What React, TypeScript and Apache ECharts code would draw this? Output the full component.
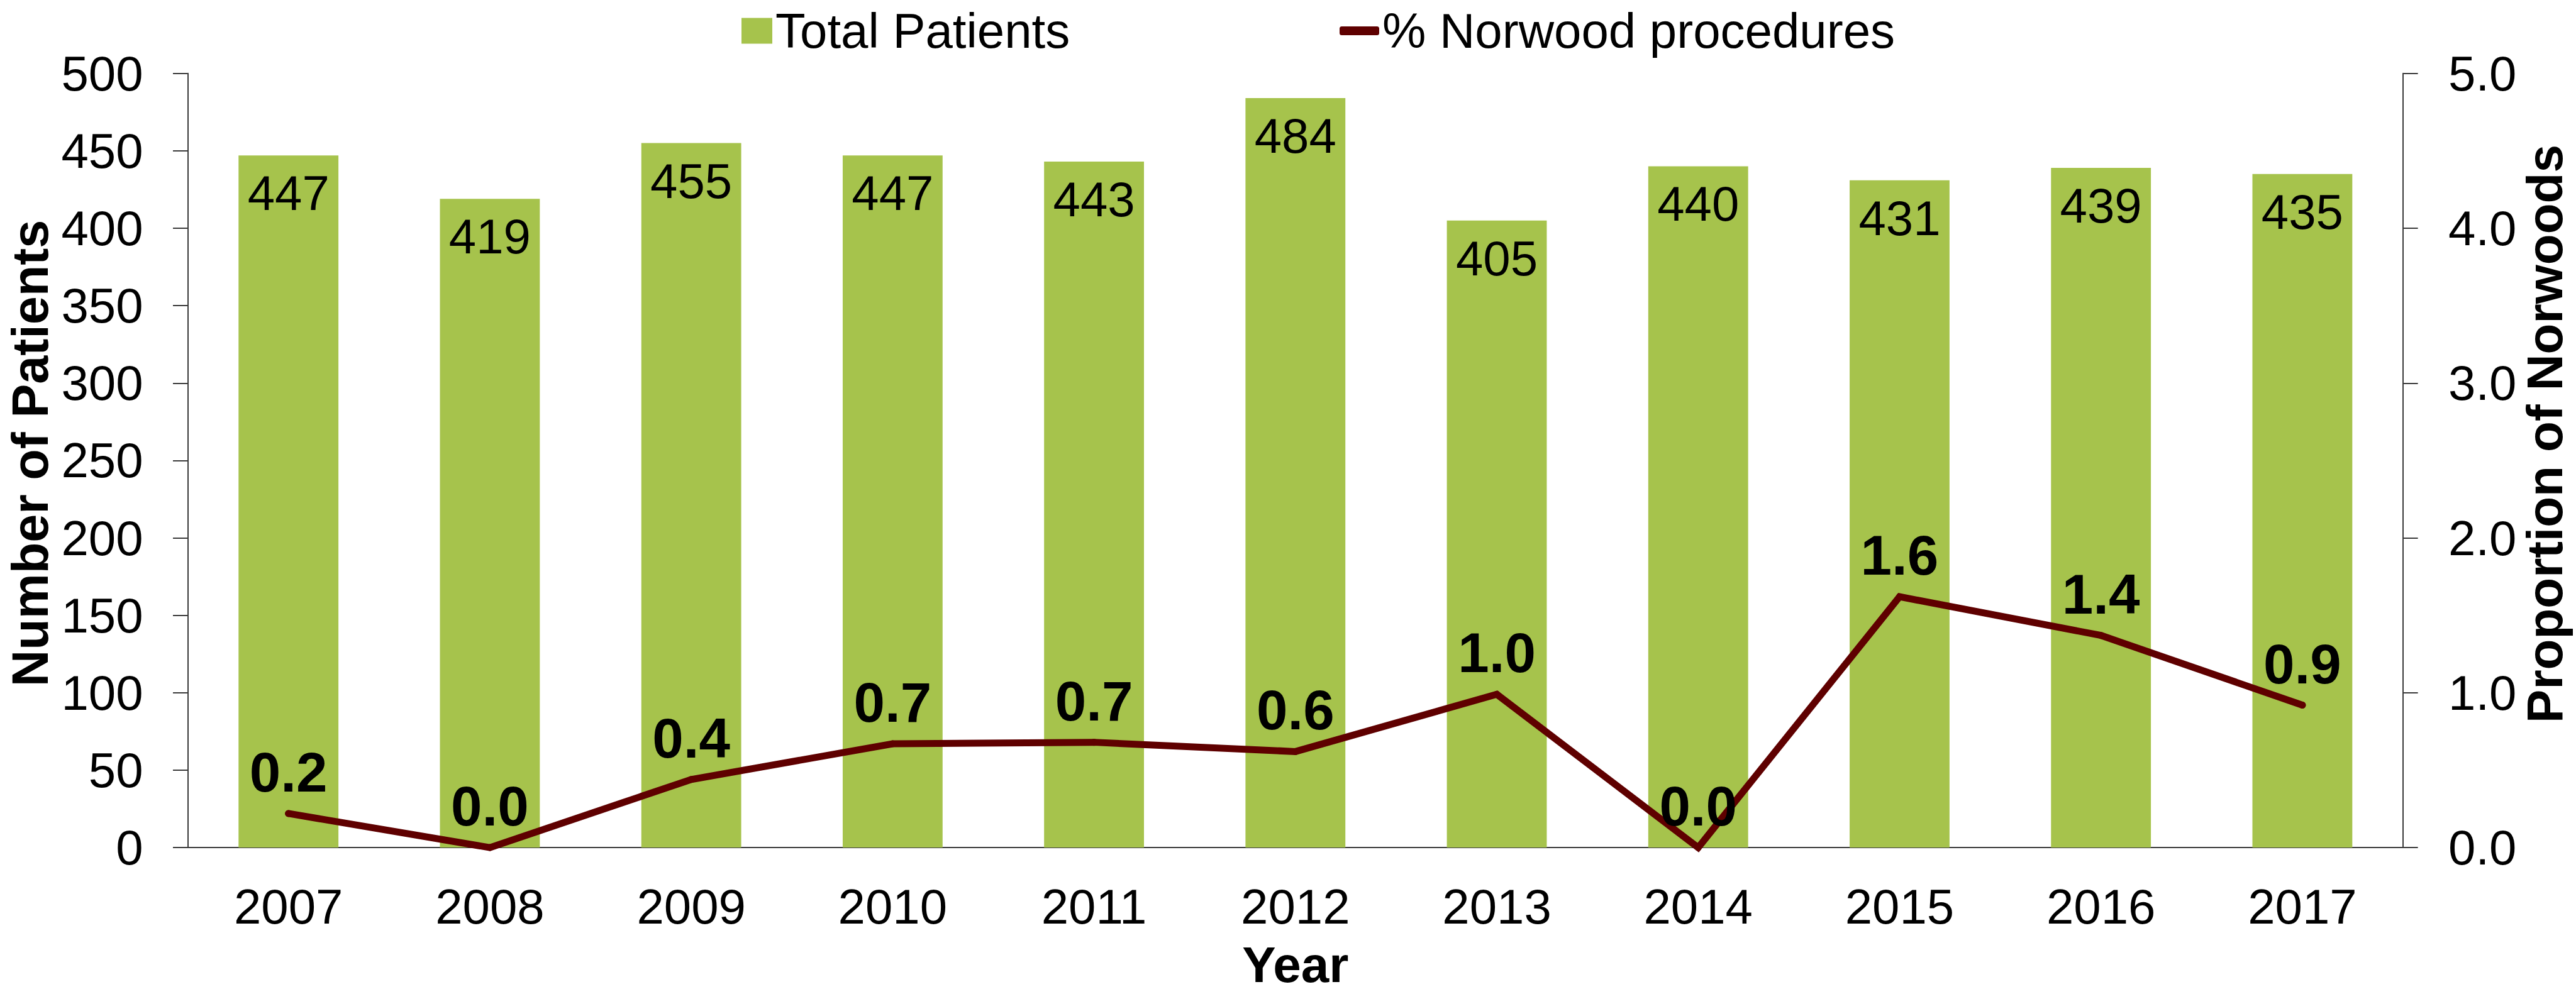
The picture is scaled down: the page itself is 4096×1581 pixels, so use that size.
import React, { useEffect, useRef } from "react";
import * as echarts from "echarts";

const years = ["2007", "2008", "2009", "2010", "2011", "2012", "2013", "2014", "2015", "2016", "2017"];
const totalPatients = [447, 419, 455, 447, 443, 484, 405, 440, 431, 439, 435];
const norwoodPct = [0.22, 0.0, 0.44, 0.67, 0.68, 0.62, 0.99, 0.0, 1.62, 1.37, 0.92];
const leftTicks = { min: 0, max: 500, interval: 50 };
const rightTicks = { min: 0, max: 5, interval: 1 };

const FONT = "'Liberation Sans', Arial, Helvetica, sans-serif";
const BAR_COLOR = "#A6C34C";
const LINE_COLOR = "#5F0000";
const AXIS_COLOR = "#3a3a3a";

export default function App() {
  const ref = useRef<HTMLDivElement>(null);
  useEffect(() => {
    if (!ref.current) return;
    const chart = echarts.init(ref.current, null, { renderer: "svg" });
    chart.setOption({
      animation: false,
      backgroundColor: "#ffffff",
      textStyle: { fontFamily: FONT },
      grid: { left: 298.6, right: 275, top: 116.7, bottom: 232.9, containLabel: false },
      legend: [
        {
          data: ["Total Patients"],
          left: 1179,
          top: 10,
          padding: 0,
          itemWidth: 49,
          itemHeight: 41,
          icon: "rect",
          textStyle: { fontSize: 78, lineHeight: 66, color: "#000", fontFamily: FONT },
        },
        {
          data: ["% Norwood procedures"],
          left: 2130,
          top: 10,
          padding: 0,
          itemWidth: 63,
          itemHeight: 14,
          icon: "roundRect",
          textStyle: { fontSize: 78, lineHeight: 66, color: "#000", fontFamily: FONT },
        },
      ],
      xAxis: {
        type: "category",
        data: years,
        axisLine: { show: true, lineStyle: { color: AXIS_COLOR, width: 2 } },
        axisTick: { show: false },
        axisLabel: { fontSize: 78, color: "#000", margin: 55, fontFamily: FONT },
        splitLine: { show: false },
      },
      yAxis: [
        {
          type: "value",
          position: "left",
          min: leftTicks.min,
          max: leftTicks.max,
          interval: leftTicks.interval,
          axisLine: { show: true, lineStyle: { color: AXIS_COLOR, width: 2 } },
          axisTick: { show: true, inside: false, length: 23.6, lineStyle: { color: AXIS_COLOR, width: 2 } },
          axisLabel: { fontSize: 78, color: "#000", margin: 71, fontFamily: FONT },
          splitLine: { show: false },
        },
        {
          type: "value",
          position: "right",
          min: rightTicks.min,
          max: rightTicks.max,
          interval: rightTicks.interval,
          axisLine: { show: true, lineStyle: { color: AXIS_COLOR, width: 2 } },
          axisTick: { show: true, inside: false, length: 23.6, lineStyle: { color: AXIS_COLOR, width: 2 } },
          axisLabel: {
            fontSize: 78,
            color: "#000",
            margin: 72,
            fontFamily: FONT,
            formatter: (v: number) => v.toFixed(1),
          },
          splitLine: { show: false },
        },
      ],
      series: [
        {
          name: "Total Patients",
          type: "bar",
          yAxisIndex: 0,
          data: totalPatients,
          barWidth: "49.6%",
          itemStyle: { color: BAR_COLOR },
          label: {
            show: true,
            position: "insideTop",
            distance: 21,
            fontSize: 78,
            color: "#000",
            fontFamily: FONT,
          },
          z: 2,
        },
        {
          name: "% Norwood procedures",
          type: "line",
          yAxisIndex: 1,
          data: norwoodPct,
          clip: false,
          symbol: "circle",
          symbolSize: 11,
          itemStyle: { color: LINE_COLOR },
          lineStyle: { color: LINE_COLOR, width: 11, cap: "round", join: "miter" },
          label: {
            show: true,
            position: "top",
            distance: 16,
            fontSize: 89,
            fontWeight: "bold",
            color: "#000",
            fontFamily: FONT,
            formatter: (p: any) => Number(p.value).toFixed(1),
          },
          z: 5,
        },
      ],
      graphic: [
        {
          type: "text",
          x: 48,
          y: 721,
          rotation: Math.PI / 2,
          style: {
            text: "Number of Patients",
            fontSize: 81,
            lineHeight: 72,
            fontWeight: "bold",
            fontFamily: FONT,
            fill: "#000",
            align: "center",
            verticalAlign: "middle",
          },
        },
        {
          type: "text",
          x: 4046,
          y: 690,
          rotation: Math.PI / 2,
          style: {
            text: "Proportion of Norwoods",
            fontSize: 80,
            lineHeight: 72,
            fontWeight: "bold",
            fontFamily: FONT,
            fill: "#000",
            align: "center",
            verticalAlign: "middle",
          },
        },
        {
          type: "text",
          x: 2059.8,
          y: 1534,
          style: {
            text: "Year",
            fontSize: 80,
            lineHeight: 70,
            fontWeight: "bold",
            fontFamily: FONT,
            fill: "#000",
            align: "center",
            verticalAlign: "middle",
          },
        },
      ],
    });
    return () => chart.dispose();
  }, []);
  return (
    <div
      ref={ref}
      style={{ position: "fixed", left: 0, top: 0, width: 4096, height: 1581, background: "#fff" }}
    />
  );
}
